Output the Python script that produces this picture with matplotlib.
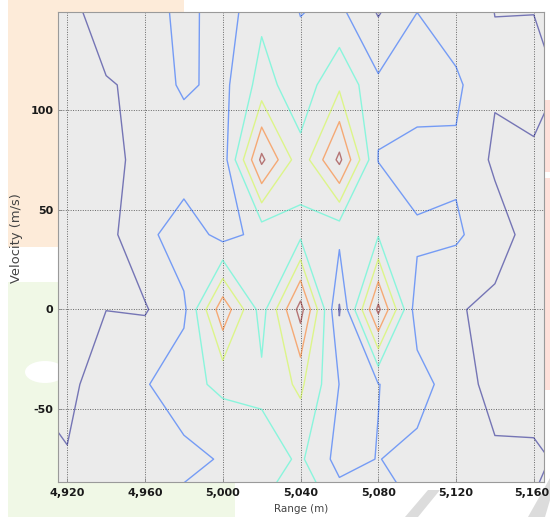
import matplotlib
matplotlib.use("Agg")
import matplotlib.pyplot as plt
import numpy as np
from matplotlib.patches import Rectangle, Ellipse, Polygon
from matplotlib.ticker import FuncFormatter
from matplotlib.transforms import ScaledTranslation

# ---- data (grid of the range-velocity map) ----
range_m = [4900, 4920, 4940, 4960, 4980, 5000, 5020, 5040, 5060, 5080, 5100, 5120, 5140, 5160, 5180]
velocity = [-112.5, -75, -37.5, 0, 37.5, 75, 112.5, 150]

row_v_m112 = [1.4, 1.5, 1.5, 1.6, 2.7, 2.8, 3.3, 3.6, 3.1, 2.5, 2.12, 1.6, 1.2, 0.87, 0.7]
row_v_m75 = [1.55, 1.068, 1.4, 1.5, 1.675, 2.1, 2.5, 3.15, 1.645, 2.033, 1.64, 1.4, 1.12, 1.12, 0.82]
row_v_m37 = [0.95, 0.711, 1.6, 1.906, 2.69, 3.21, 3.25, 4.2, 1.98, 1.976, 2.51, 1.35, 0.74, 0.7, 0.6]
row_v_0 = [0.6, 0.6, 0.99, 0.92, 1.77, 5.69, 2.56, 6.41, 0.904, 6.24, 1.4, 1.087, 0.77, 0.6, 0.6]
row_v_37 = [0.5, 0.5, 0.726, 1.64, 2.71, 1.61, 2.34, 2.78, 2.275, 2.92, 2.25, 2.15, 1.44, 0.59, 0.6]
row_v_75 = [0.5, 0.5, 0.7, 1.3, 1.22, 1.48, 6.24, 3.33, 6.25, 1.97, 1.3, 1.83, 0.83, 0.865, 0.6]
row_v_112 = [0.5, 0.6, 0.9, 1.25, 2.19, 1.7, 3.4, 2.41, 3.8, 2.2, 2.9, 2.2, 1.1, 1.3, 0.8]
row_v_150 = [0.5, 0.57, 1.7, 1.372, 2.377, 1.435, 2.78, 1.96, 2.2, 0.88, 1.97, 1.38, 0.99, 0.98, 0.7]

contour_levels = [1, 2, 3, 4, 5, 6]
x_ticks = [4920, 4960, 5000, 5040, 5080, 5120, 5160]
y_ticks = [-50, 0, 50, 100]

Z = np.array([row_v_m112, row_v_m75, row_v_m37, row_v_0,
              row_v_37, row_v_75, row_v_112, row_v_150])

W, H = 550, 517
fig = plt.figure(figsize=(W / 100, H / 100), dpi=100)
fig.patch.set_facecolor("white")


def px_rect(x0, y0, x1, y1, color, z=-5):
    fig.add_artist(Rectangle((x0 / W, 1 - y1 / H), (x1 - x0) / W, (y1 - y0) / H,
                             transform=fig.transFigure, facecolor=color,
                             edgecolor="none", zorder=z))


# decorative background blobs
px_rect(8, 0, 184, 247, "#fdebd9")
px_rect(8, 282, 235, 517, "#f0f8e6")
px_rect(544, 100, 550, 172, "#ffe0da")
px_rect(544, 178, 550, 390, "#ffe0da")
fig.add_artist(Ellipse((45 / W, 1 - 372 / H), 40 / W, 22 / H, transform=fig.transFigure,
                       facecolor="white", edgecolor="none", zorder=-4))
fig.add_artist(Polygon([(405 / W, 0), (418 / W, 0), (440 / W, 1 - 490 / H), (428 / W, 1 - 490 / H)],
                       closed=True, transform=fig.transFigure, facecolor="#dcdcdc",
                       edgecolor="none", zorder=-4))
fig.add_artist(Polygon([(528 / W, 0), (545 / W, 0), (550 / W, 1 - 500 / H), (550 / W, 1 - 478 / H)],
                       closed=True, transform=fig.transFigure, facecolor="#dcdcdc",
                       edgecolor="none", zorder=-4))

ax = fig.add_axes([58.3 / W, 1 - 481.7 / H, (543.7 - 58.3) / W, (481.7 - 12) / H])
ax.set_facecolor("#ebebeb")

ax.contour(range_m, velocity, Z, levels=contour_levels, cmap="jet",
           linewidths=1.0, alpha=0.5)

ax.set_xlim(4915.4, 5165.1)
ax.set_ylim(-86.3, 149.05)
ax.set_xticks(x_ticks)
ax.set_yticks(y_ticks)
ax.xaxis.set_major_formatter(FuncFormatter(lambda v, p: f"{int(round(v)):,}"))
ax.yaxis.set_major_formatter(FuncFormatter(lambda v, p: f"{int(round(v))}"))

ax.set_axisbelow(True)
ax.grid(True, linestyle=(0, (1, 1.5)), color="#666666", linewidth=0.7)
for s in ax.spines.values():
    s.set_color("#9a9a9a")
    s.set_linewidth(0.8)
ax.tick_params(direction="in", length=3, width=0.6, color="#888888",
               labelsize=8.0, labelcolor="#1a1a1a")
ax.tick_params(axis="x", pad=4.5)
ax.tick_params(axis="y", pad=3.5)
for lab in ax.get_xticklabels() + ax.get_yticklabels():
    lab.set_fontweight("bold")
    lab.set_family("DejaVu Sans")

# keep the last range label inside the canvas
last = ax.get_xticklabels()[-1]
last.set_transform(last.get_transform() + ScaledTranslation(-2.5 / 100, 0, fig.dpi_scale_trans))

fig.text(301 / W, 1 - 509 / H, "Range (m)", ha="center", va="center",
         fontsize=7.5, color="#444444", family="DejaVu Sans")
fig.text(17 / W, 1 - 238 / H, "Velocity (m/s)", ha="center", va="center",
         rotation=90, fontsize=9.4, color="#444444", family="DejaVu Sans")

fig.savefig("out.png", dpi=100, facecolor="white")
